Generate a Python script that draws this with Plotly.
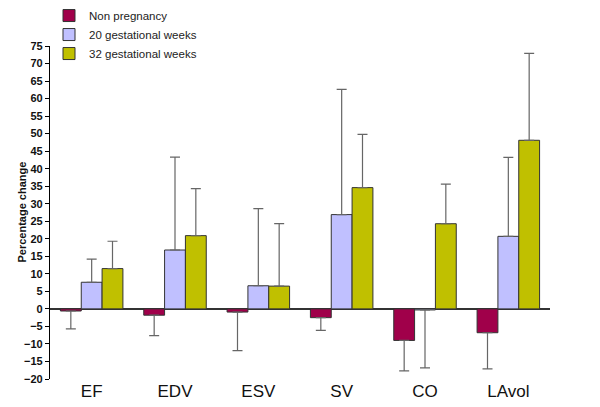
import plotly.graph_objects as go

categories = ["EF", "EDV", "ESV", "SV", "CO", "LAvol"]
series_names = ["Non pregnancy", "20 gestational weeks", "32 gestational weeks"]
non_preg = [-0.6, -1.8, -0.9, -2.5, -9.0, -6.8]
non_preg_err = [5.1, 5.8, 11.0, 3.6, 8.7, 10.3]
wk20 = [7.6, 16.8, 6.6, 26.9, -0.3, 20.7]
wk20_err = [6.6, 26.5, 22.0, 35.7, 16.5, 22.5]
wk32 = [11.5, 20.9, 6.5, 34.6, 24.3, 48.1]
wk32_err = [7.8, 13.4, 17.8, 15.2, 11.3, 24.8]
colors = ["#A0004A", "#C0C0FF", "#C0C000"]
y_ticks = list(range(-20, 80, 5))
y_title = "Percentage change"


def err(values, errs):
    up = [e if v >= 0 else 0 for v, e in zip(values, errs)]
    down = [e if v < 0 else 0 for v, e in zip(values, errs)]
    return dict(type="data", symmetric=False, array=up, arrayminus=down,
                color="#666666", thickness=1.2, width=5)


fig = go.Figure()
for name, vals, errs, col in zip(series_names, [non_preg, wk20, wk32],
                                 [non_preg_err, wk20_err, wk32_err], colors):
    fig.add_trace(go.Bar(
        x=categories, y=vals, name=name,
        marker=dict(color=col, line=dict(color="#333333", width=1)),
        error_y=err(vals, errs),
    ))

fig.add_annotation(
    text="<b>" + y_title + "</b>", textangle=-90,
    xref="paper", yref="paper", x=-0.058, y=0.5,
    xanchor="center", yanchor="middle", showarrow=False,
    font=dict(size=11, color="#111111"),
)

fig.update_layout(
    width=592, height=399,
    margin=dict(l=42, r=50, t=38, b=28, autoexpand=False),
    paper_bgcolor="white", plot_bgcolor="white",
    barmode="group", bargap=0.25, bargroupgap=0,
    font=dict(family="Arial, Liberation Sans, sans-serif", color="#000000"),
    showlegend=True,
    legend=dict(x=-0.002, y=1.135, xanchor="left", yanchor="top",
                font=dict(size=11.5, color="#222222"),
                bgcolor="rgba(0,0,0,0)", tracegroupgap=0, itemwidth=30),
    xaxis=dict(
        range=[-0.5, 5.5], showline=False, ticks="", showgrid=False,
        tickfont=dict(size=17, color="#111111"),
    ),
    yaxis=dict(
        range=[-20, 75], tickvals=y_ticks, showgrid=False,
        showline=True, linecolor="#000000", linewidth=1.2,
        ticks="outside", ticklen=4, tickcolor="#000000",
        tickfont=dict(size=11, color="#111111", weight="bold"),
        zeroline=True, zerolinecolor="#333333", zerolinewidth=1.5,
    ),
)

fig.write_html("out.html")
